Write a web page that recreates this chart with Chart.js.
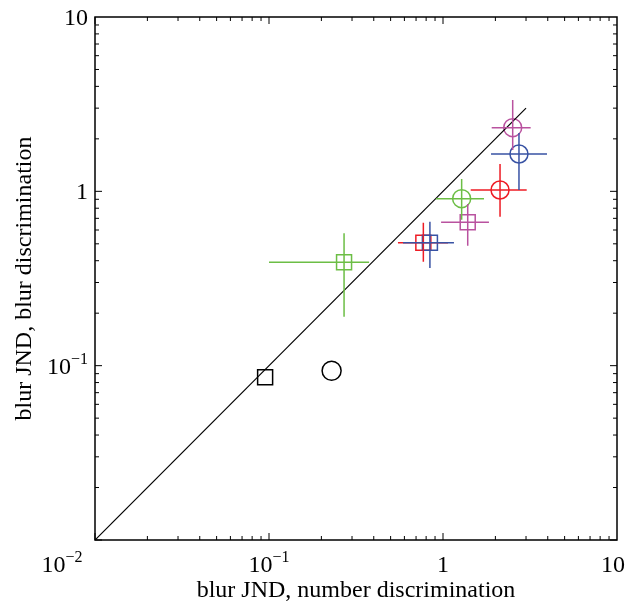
<!DOCTYPE html>
<html>
<head>
<meta charset="utf-8">
<script src="https://cdn.jsdelivr.net/npm/chart.js@4.4.1/dist/chart.umd.min.js"></script>
<style>
  html, body { margin: 0; padding: 0; background: #fff; }
</style>
</head>
<body>
<canvas id="c" width="644" height="603"></canvas>
<script>
// one entry per marker
const colors = ['#000000', '#000000', '#6cbe45', '#ee1c25', '#3953a4', '#b9529f', '#6cbe45', '#ee1c25', '#3953a4', '#b9529f'];
const shapes = ['rect', 'circle', 'rect', 'rect', 'rect', 'rect', 'circle', 'circle', 'circle', 'circle'];
const xVal = [0.095, 0.229, 0.270, 0.771, 0.841, 1.387, 1.280, 2.127, 2.733, 2.515];
const yVal = [0.0857, 0.0935, 0.392, 0.507, 0.507, 0.664, 0.908, 1.018, 1.637, 2.318];
const xLo = [null, null, 0.100, 0.551, 0.589, 0.975, 0.912, 1.443, 1.888, 1.905];
const xHi = [null, null, 0.376, 1.069, 1.156, 1.837, 1.720, 3.027, 3.960, 3.190];
const yLo = [null, null, 0.191, 0.394, 0.363, 0.488, 0.686, 0.716, 1.018, 1.726];
const yHi = [null, null, 0.574, 0.661, 0.670, 0.845, 1.177, 1.435, 2.160, 3.340];

// identity line
const diagX = [0.01, 3];

// axis ticks and labels
const majorTicks = [0.01, 0.1, 1, 10];
const tickBase = ['10', '10', '1', '10'];
const tickExp = ['\u22122', '\u22121', '', ''];

const FONT = '"Liberation Serif", "Times New Roman", serif';

function drawPow(ctx, base, exp, x, y, align) {
  ctx.font = '24px ' + FONT;
  const wb = ctx.measureText(base).width;
  ctx.font = '16px ' + FONT;
  const we = exp ? ctx.measureText(exp).width : 0;
  const w = wb + we;
  let left = x;
  if (align === 'center') left = x - w / 2;
  if (align === 'right') left = x - w;
  ctx.textAlign = 'left';
  ctx.textBaseline = 'alphabetic';
  ctx.font = '24px ' + FONT;
  ctx.fillText(base, left, y);
  if (exp) {
    ctx.font = '16px ' + FONT;
    ctx.fillText(exp, left + wb, y - 10);
  }
}

const axesPlugin = {
  id: 'axesPlugin',
  afterDatasetsDraw(chart) {
    const ctx = chart.ctx, xs = chart.scales.x, ys = chart.scales.y;
    ctx.save();
    ctx.lineWidth = 1.5;
    for (let i = 0; i < xVal.length; i++) {
      if (xLo[i] === null) continue;
      ctx.strokeStyle = colors[i];
      const px = xs.getPixelForValue(xVal[i]);
      const py = ys.getPixelForValue(yVal[i]);
      ctx.beginPath();
      ctx.moveTo(xs.getPixelForValue(xLo[i]), py);
      ctx.lineTo(xs.getPixelForValue(xHi[i]), py);
      ctx.moveTo(px, ys.getPixelForValue(yLo[i]));
      ctx.lineTo(px, ys.getPixelForValue(yHi[i]));
      ctx.stroke();
    }
    ctx.restore();
  },
  afterDraw(chart) {
    const ctx = chart.ctx, xs = chart.scales.x, ys = chart.scales.y;
    const a = chart.chartArea;
    ctx.save();
    ctx.strokeStyle = '#000';
    ctx.lineWidth = 1.5;
    ctx.strokeRect(a.left, a.top, a.right - a.left, a.bottom - a.top);

    // inward ticks on all four sides
    ctx.lineWidth = 1;
    ctx.beginPath();
    for (let k = -2; k <= 0; k++) {
      for (let m = 1; m <= 9; m++) {
        const v = m * Math.pow(10, k);
        const len = m === 1 ? 7 : 4;
        const px = xs.getPixelForValue(v);
        const py = ys.getPixelForValue(v);
        ctx.moveTo(px, a.bottom); ctx.lineTo(px, a.bottom - len);
        ctx.moveTo(px, a.top); ctx.lineTo(px, a.top + len);
        ctx.moveTo(a.left, py); ctx.lineTo(a.left + len, py);
        ctx.moveTo(a.right, py); ctx.lineTo(a.right - len, py);
      }
    }
    ctx.stroke();

    ctx.fillStyle = '#000';
    // x tick labels
    for (let i = 0; i < majorTicks.length; i++) {
      let px = xs.getPixelForValue(majorTicks[i]);
      if (i === 0) px -= 33;
      if (i === 3) px -= 4;
      drawPow(ctx, tickBase[i], tickExp[i], px, 572, 'center');
    }
    // y tick labels (bottom one is shared with x axis)
    for (let i = 1; i < majorTicks.length; i++) {
      const py = ys.getPixelForValue(majorTicks[i]);
      drawPow(ctx, tickBase[i], tickExp[i], 88, py + 8, 'right');
    }

    // axis titles
    ctx.font = '24px ' + FONT;
    ctx.textAlign = 'center';
    ctx.textBaseline = 'alphabetic';
    ctx.fillText('blur JND, number discrimination', (a.left + a.right) / 2, 597);
    ctx.save();
    ctx.translate(31, (a.top + a.bottom) / 2);
    ctx.rotate(-Math.PI / 2);
    ctx.fillText('blur JND, blur discrimination', 0, 0);
    ctx.restore();
    ctx.restore();
  }
};

const points = xVal.map((x, i) => ({ x: x, y: yVal[i] }));

new Chart(document.getElementById('c'), {
  type: 'scatter',
  data: {
    datasets: [
      {
        type: 'line',
        data: diagX.map(v => ({ x: v, y: v })),
        borderColor: '#000',
        borderWidth: 1.2,
        pointRadius: 0,
        fill: false
      },
      {
        data: points,
        pointStyle: shapes,
        pointRadius: shapes.map((s, i) => s === 'rect' ? 10.6 : (i === 1 ? 9.5 : 9)),
        pointBorderColor: colors,
        pointBackgroundColor: 'rgba(0,0,0,0)',
        pointBorderWidth: 1.5,
        showLine: false
      }
    ]
  },
  options: {
    responsive: false,
    animation: false,
    devicePixelRatio: 1,
    layout: { padding: { left: 95, right: 27, top: 17, bottom: 63 } },
    plugins: { legend: { display: false }, tooltip: { enabled: false } },
    scales: {
      x: {
        type: 'logarithmic', min: 0.01, max: 10,
        ticks: { display: false }, grid: { display: false, drawTicks: false }, border: { display: false }
      },
      y: {
        type: 'logarithmic', min: 0.01, max: 10,
        ticks: { display: false }, grid: { display: false, drawTicks: false }, border: { display: false }
      }
    }
  },
  plugins: [axesPlugin]
});
</script>
</body>
</html>
